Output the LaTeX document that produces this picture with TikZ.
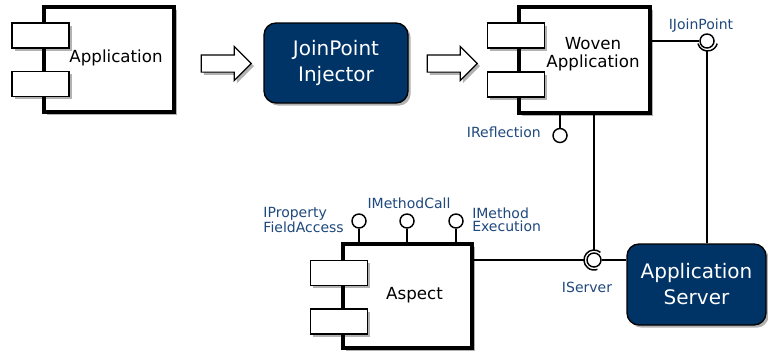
\documentclass[tikz,border=0pt]{standalone}
\usepackage{fontspec}
\setmainfont{DejaVu Sans}
\usetikzlibrary{shapes.arrows,shadows,calc}
\definecolor{navy}{RGB}{0,51,102}
\definecolor{lblue}{RGB}{31,73,125}
\begin{document}
\begin{tikzpicture}[x=0.75pt,y=-0.75pt,
  shad/.style={drop shadow={shadow xshift=2pt,shadow yshift=-2pt,opacity=0.3,fill=black}},
  compbody/.style={draw,line width=2.4pt,fill=white,shad,inner sep=0},
  comppart/.style={draw,line width=1.1pt,fill=white,shad,minimum width=42.75pt,minimum height=18.75pt,inner sep=0},
  darkbox/.style={draw=black,line width=1pt,fill=navy,rounded corners=9pt,shad,text=white,font=\fontsize{15}{19.5}\selectfont,align=center},
  hollow/.style={single arrow,draw,line width=0.9pt,fill=white,shad,minimum height=37.5pt,inner sep=0pt,inner ysep=6pt,single arrow head extend=6.4pt},
  ball/.style={circle,draw,line width=1.1pt,fill=white,minimum size=10.5pt,inner sep=0},
  lbl/.style={text=lblue,font=\fontsize{10.5}{10}\selectfont,inner sep=0},
  ctext/.style={font=\fontsize{12.5}{13}\selectfont,align=center,inner sep=0},
  wire/.style={line width=1.1pt},
  thinwire/.style={line width=0.8pt}
]
\fill[white] (0,0) rectangle (768,354);
\useasboundingbox (0,0) rectangle (768,354);

% Application component
\node[compbody,minimum width=97.5pt,minimum height=78.75pt] (app) at (109,59.5) {};
\node[comppart] (app1) at (40.5,35.5) {};
\node[comppart] (app2) at (40.5,84) {};
\node[ctext] (apptxt) at (116,58) {Application};

% hollow arrows
\node[hollow] (arr1) at (222,63.5) {};
\node[hollow] (arr2) at (448,63.5) {};

% JoinPoint Injector
\node[darkbox,minimum width=108pt,minimum height=60pt] (inj) at (336,63) {JoinPoint\\Injector};

% Woven Application component
\node[compbody,minimum width=98.25pt,minimum height=79.5pt] (woven) at (584.5,60) {};
\node[comppart] (wov1) at (516,35.5) {};
\node[comppart] (wov2) at (516,84.5) {};
\node[ctext] (wovtxt) at (593,54) {Woven\\Application};

% Aspect component
\node[compbody,minimum width=96.75pt,minimum height=78pt] (aspect) at (407.5,296) {};
\node[comppart] (asp1) at (339,273) {};
\node[comppart] (asp2) at (339,321.5) {};
\node[ctext] (asptxt) at (414.5,295) {Aspect};

% Application Server
\node[darkbox,minimum width=104.25pt,minimum height=60.75pt] (server) at (696.5,284.5) {Application\\Server};

% balls
\node[ball] (ijb) at (707,41) {};
\node[ball] (irb) at (560,135.5) {};
\node[ball] (isb) at (594,260) {};
\node[ball] (ipf) at (359,221) {};
\node[ball] (imc) at (407,221) {};
\node[ball] (ime) at (456,221) {};

% IJoinPoint
\draw[thinwire] (woven.east |- ijb) -- (ijb.west);
\draw[wire] ([xshift=0.4pt]ijb.center) ++(195:7.5pt) arc[start angle=195,end angle=345,radius=7.5pt];
\draw[wire] ([yshift=-7.5pt]ijb.center) -- (ijb |- server.north);

% IReflection
\draw[wire] (irb |- woven.south) -- (irb.north);

% IServer
\draw[thinwire] (isb |- woven.south) -- ([yshift=7.5pt]isb.center);
\draw[wire] (isb.center) ++(50:7.5pt) arc[start angle=50,end angle=290,radius=7.5pt];
\draw[wire] (aspect.east |- isb.center) -- ([xshift=-7.5pt]isb.center);
\draw[thinwire] (isb.east) -- (server.west |- isb.center);

% Aspect lollipops
\draw[wire] (ipf.south) -- (ipf |- aspect.north);
\draw[wire] (imc.south) -- (imc |- aspect.north);
\draw[wire] (ime.south) -- (ime |- aspect.north);

% labels
\node[lbl] (ljp) at (701,26) {IJoinPoint};
\node[lbl,anchor=east] (lrf) at (541,132) {IReflection};
\node[lbl] (lsv) at (587,287) {IServer};
\node[lbl] (lmc) at (409,203) {IMethodCall};
\node[lbl,anchor=east,align=left] (lpf) at (344,220) {IProperty\\FieldAccess};
\node[lbl,anchor=west,align=left] (lme) at (472,220) {IMethod\\Execution};
\end{tikzpicture}
\end{document}
